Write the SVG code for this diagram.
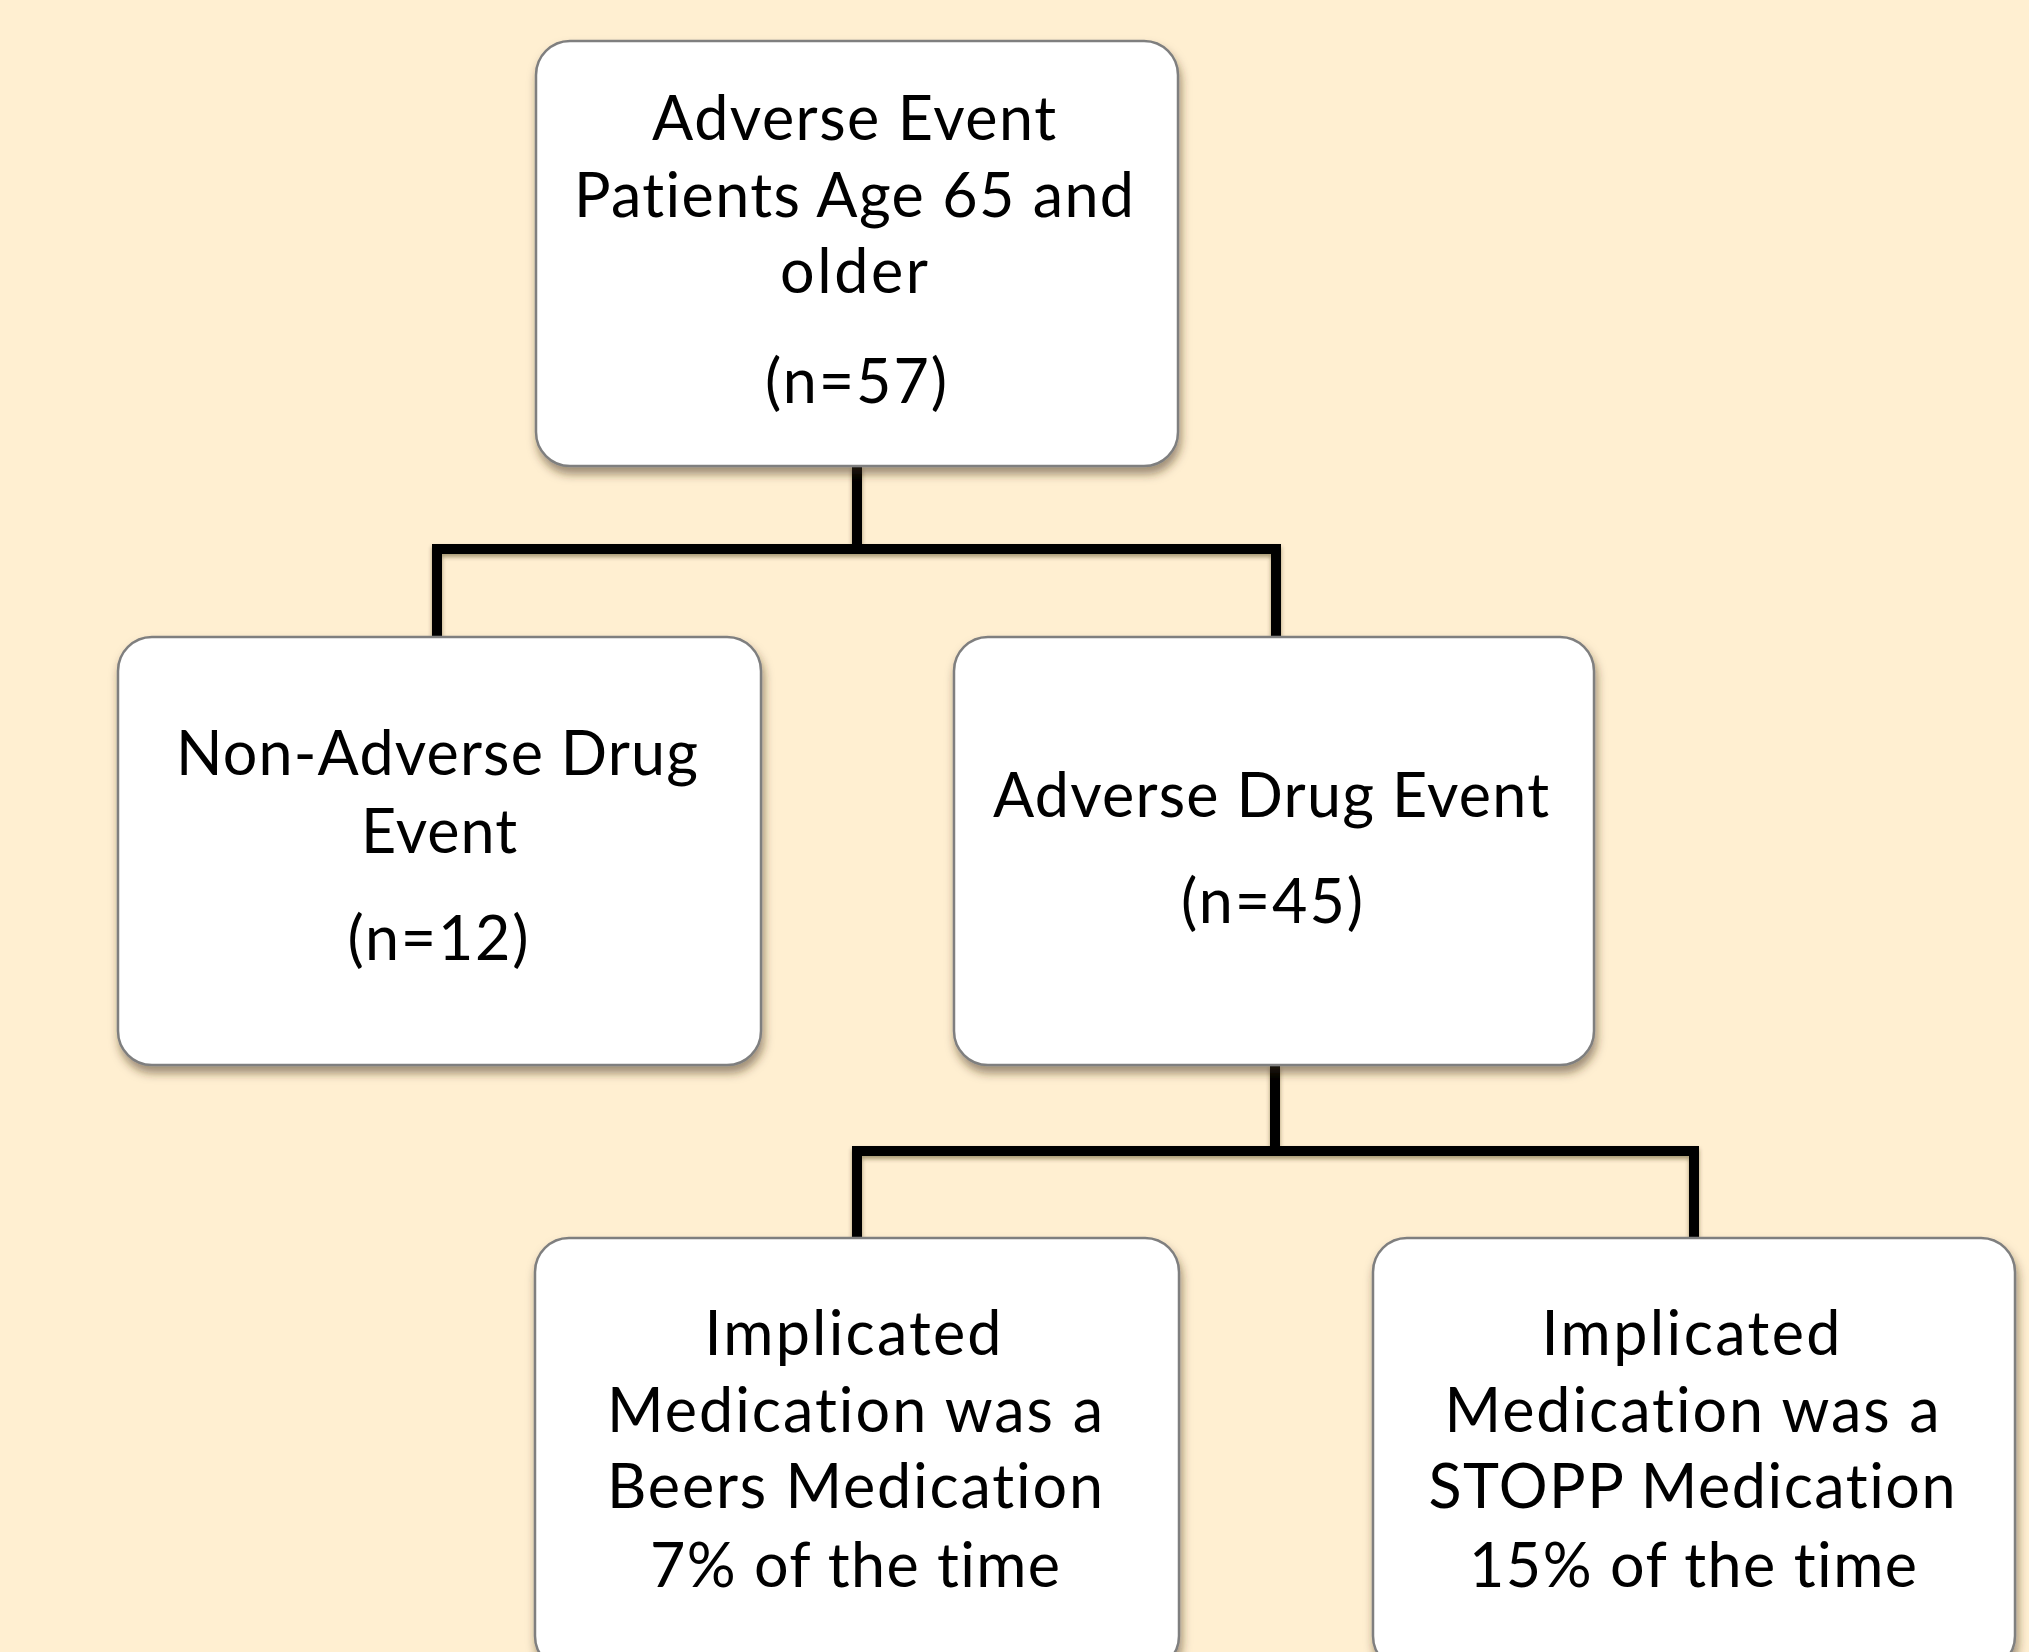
<svg xmlns="http://www.w3.org/2000/svg" width="2029" height="1652" viewBox="0 0 2029 1652">
<style>
.box{fill:#ffffff;stroke:#7f7f7f;stroke-width:2.5}
.t{font-family:Lato,"Open Sans","Liberation Sans",sans-serif;font-size:61px;fill:#000;text-anchor:middle;font-variant-ligatures:none;font-feature-settings:"liga" 0,"clig" 0}
.conn{fill:none;stroke:#000;stroke-width:10;stroke-linejoin:miter}
</style>
<defs>
<filter id="sh" x="-10%" y="-10%" width="120%" height="125%">
<feDropShadow dx="2" dy="7" stdDeviation="5" flood-color="#3a2a10" flood-opacity="0.5"/>
</filter>
<filter id="lsh" x="-5%" y="-20%" width="110%" height="140%">
<feDropShadow dx="0" dy="3" stdDeviation="2" flood-color="#3a2a10" flood-opacity="0.45"/>
</filter>
</defs>
<rect width="2029" height="1652" fill="#FFEFD1"/>
<g id="connectors" filter="url(#lsh)">
<path class="conn" d="M857 466 V549 M437 637 V549 H1276 V637"/>
<path class="conn" d="M1275 1065 V1151 M857 1238 V1151 H1694 V1238"/>
</g>
<g id="node-top">
<rect class="box" x="536" y="41" width="642" height="425" rx="34" filter="url(#sh)"/>
<text class="t" x="854" y="140" textLength="404">Adverse Event</text>
<text class="t" x="854" y="217" textLength="560">Patients Age 65 and</text>
<text class="t" x="854" y="293" textLength="148">older</text>
<text class="t" x="856" y="403" textLength="182">(n=57)</text>
</g>
<g id="node-non-ade">
<rect class="box" x="118" y="637" width="643" height="428" rx="34" filter="url(#sh)"/>
<text class="t" x="437" y="775" textLength="522">Non-Adverse Drug</text>
<text class="t" x="439" y="853" textLength="156">Event</text>
<text class="t" x="438" y="960" textLength="181">(n=12)</text>
</g>
<g id="node-ade">
<rect class="box" x="954" y="637" width="640" height="428" rx="34" filter="url(#sh)"/>
<text class="t" x="1271" y="817" textLength="556">Adverse Drug Event</text>
<text class="t" x="1272" y="923" textLength="182">(n=45)</text>
</g>
<g id="node-beers">
<rect class="box" x="535" y="1238" width="644" height="432" rx="34" filter="url(#sh)"/>
<text class="t" x="853" y="1355" textLength="297">Implicated</text>
<text class="t" x="855" y="1432" textLength="496">Medication was a</text>
<text class="t" x="855" y="1508" textLength="496">Beers Medication</text>
<text class="t" x="855" y="1587" textLength="410">7% of the time</text>
</g>
<g id="node-stopp">
<rect class="box" x="1373" y="1238" width="642" height="432" rx="34" filter="url(#sh)"/>
<text class="t" x="1691" y="1355" textLength="299">Implicated</text>
<text class="t" x="1692" y="1432" textLength="495">Medication was a</text>
<text class="t" x="1692" y="1508" textLength="527">STOPP Medication</text>
<text class="t" x="1693" y="1587" textLength="448">15% of the time</text>
</g>
</svg>
